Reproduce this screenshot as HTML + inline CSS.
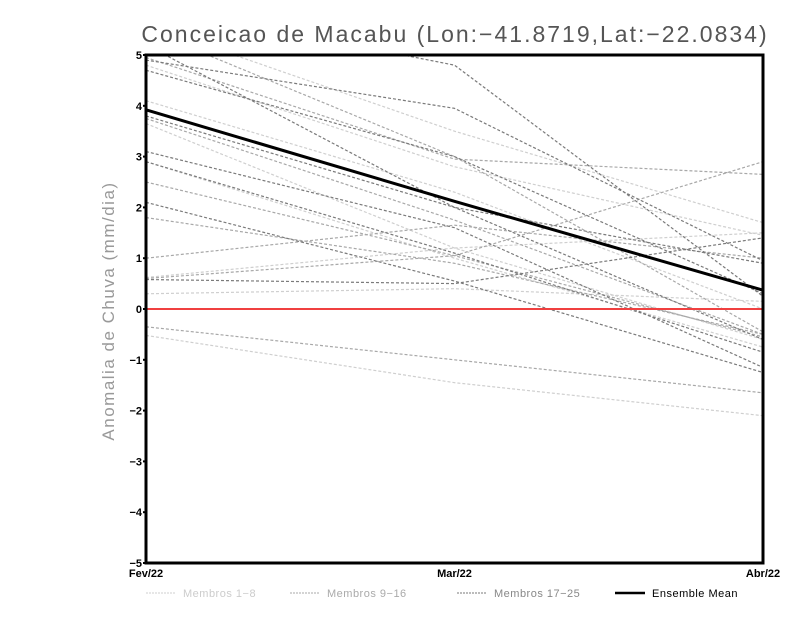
<!DOCTYPE html>
<html><head><meta charset="utf-8"><style>
body{margin:0;background:#fff;}
svg{display:block;font-family:"Liberation Sans",sans-serif;}
</style></head><body>
<svg id="chart" width="800" height="618" viewBox="0 0 800 618">
<text x="455" y="42" text-anchor="middle" font-size="23" fill="#555" letter-spacing="2">Conceicao de Macabu (Lon:−41.8719,Lat:−22.0834)</text>
<text transform="translate(114,311) rotate(-90)" text-anchor="middle" font-size="17" fill="#999" letter-spacing="1.5">Anomalia de Chuva (mm/dia)</text>
<defs><clipPath id="pc"><rect x="146" y="55" width="617" height="508"/></clipPath></defs>
<g id="members" clip-path="url(#pc)"></g>
<g id="axes"></g>
<g id="legend"></g>
</svg>
<script>
const categories = ["Fev/22","Mar/22","Abr/22"];
const yTicks = [5,4,3,2,1,0,-1,-2,-3,-4,-5];
const group1 = [[4.1,2.3,0.0],[3.65,1.2,-0.6],[0.3,0.4,0.15],[-0.52,-1.45,-2.1],[5.6,3.5,1.7],[4.8,2.8,1.45],[2.9,1.0,-0.75],[0.62,1.2,1.5]];
const group2 = [[4.95,2.95,2.65],[1.0,1.65,1.0],[0.6,1.05,2.9],[-0.35,-1.0,-1.65],[2.5,1.05,-0.55],[1.8,0.9,-0.5],[3.75,1.75,-0.5],[5.5,3.0,-0.45]];
const group3 = [[4.7,3.0,0.3],[4.9,3.95,0.95],[6.0,4.8,0.25],[3.1,1.6,-1.15],[2.1,0.55,-1.25],[0.58,0.5,1.4],[3.8,2.0,-0.6],[2.9,1.1,-0.85],[5.2,2.0,0.9]];
const ensembleMean = [3.92,2.12,0.37];
const legendLabels = ["Membros 1-8","Membros 9-16","Membros 17-25","Ensemble Mean"];

const NS="http://www.w3.org/2000/svg";
const X0=146,X1=763,Y0=55,Y1=563,VMIN=-5,VMAX=5;
function xs(i){return X0+(X1-X0)*i/(categories.length-1);}
function ys(v){return Y1-(v-VMIN)/(VMAX-VMIN)*(Y1-Y0);}
function mk(tag,attrs,parent){const e=document.createElementNS(NS,tag);for(const k in attrs)e.setAttribute(k,attrs[k]);parent.appendChild(e);return e;}
const mg=document.getElementById('members');
function drawGroup(arr,color,name){
  arr.forEach((s,j)=>{
    const p=mk('polyline',{points:s.map((v,i)=>xs(i)+','+ys(v)).join(' '),fill:'none',stroke:color,'stroke-width':1.2,'stroke-dasharray':'3,2'},mg);
    
    
  });
}
drawGroup(group1,'#cfcfcf','members-1-8');
drawGroup(group2,'#a8a8a8','members-9-16');
drawGroup(group3,'#7a7a7a','members-17-25');
const ax=document.getElementById('axes');
const zl=mk('line',{x1:X0,x2:X1,y1:ys(0),y2:ys(0),stroke:'#f04040','stroke-width':2},ax);


const em=mk('polyline',{points:ensembleMean.map((v,i)=>xs(i)+','+ys(v)).join(' '),fill:'none',stroke:'#000','stroke-width':3},ax);


const fr=mk('rect',{x:X0,y:Y0,width:X1-X0,height:Y1-Y0,fill:'none',stroke:'#000','stroke-width':3},ax);


yTicks.forEach(v=>{
  const t=mk('text',{x:X0-4,y:ys(v)+4,'text-anchor':'end','font-size':11,'font-weight':'bold',fill:'#000'},ax);
  t.textContent=v<0?'−'+(-v):String(v);
  
  
  mk('line',{x1:X0-3,x2:X0,y1:ys(v),y2:ys(v),stroke:'#000','stroke-width':2},ax);
});
categories.forEach((c,i)=>{
  const t=mk('text',{x:xs(i),y:Y1+14,'text-anchor':'middle','font-size':11,'font-weight':'bold',fill:'#000'},ax);
  t.textContent=c;
  
  
});
const lg=document.getElementById('legend');
const lc=['#cfcfcf','#a8a8a8','#7a7a7a','#000'];
const tc=['#ccc','#aaa','#888','#000'];
const lx=[146,290,457,615];
legendLabels.forEach((l,i)=>{
  const ln=mk('line',{x1:lx[i],x2:lx[i]+30,y1:593,y2:593,stroke:lc[i],'stroke-width':i==3?2.5:1,'stroke-dasharray':i==3?'none':'2,1'},lg);
  
  
  const t=mk('text',{x:lx[i]+37,y:597,'font-size':11,fill:tc[i],'letter-spacing':'0.5'},lg);
  t.textContent=l.replace('-','−');
  
  
});
</script>
</body></html>
